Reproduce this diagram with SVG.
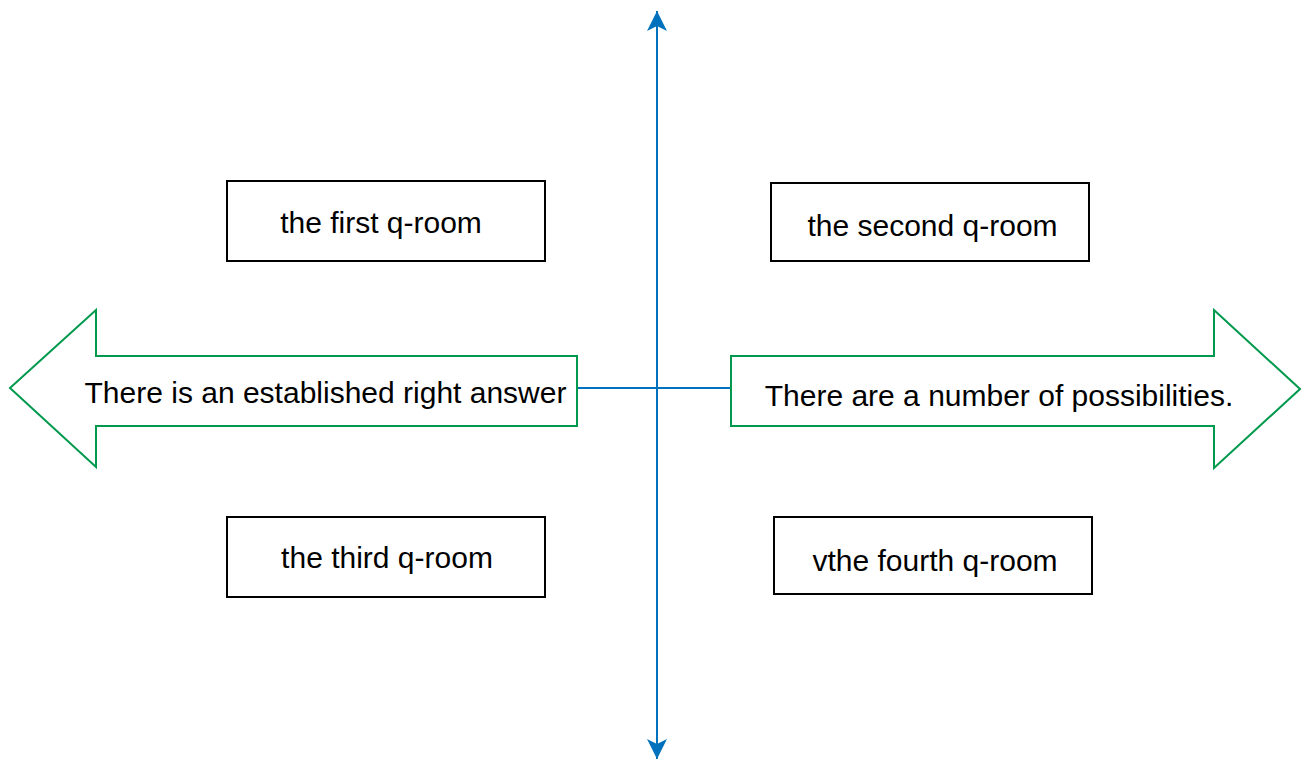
<svg xmlns="http://www.w3.org/2000/svg" width="1301" height="761" viewBox="0 0 1301 761">
<style>
.box{fill:#fff;stroke:#000;stroke-width:2}
.arr{fill:#fff;stroke:#00994D;stroke-width:2}
.lbl{font-family:"Liberation Sans",Arial,sans-serif;font-size:30px;fill:#000;text-anchor:middle}
.ax{stroke:#0071BC;stroke-width:2;fill:none}
</style>
<defs>
<marker id="ah" viewBox="0 0 20 22" refX="20" refY="11" markerWidth="20" markerHeight="22" markerUnits="userSpaceOnUse" orient="auto">
<path d="M0,1 L20,11 L0,21 L5,11 Z" fill="#0071BC"/>
</marker>
</defs>
<g id="connectors">
<line class="ax" x1="657" y1="388" x2="657" y2="11" marker-end="url(#ah)"/>
<line class="ax" x1="657" y1="388" x2="657" y2="759" marker-end="url(#ah)"/>
<line class="ax" x1="577" y1="388" x2="731" y2="388"/>
</g>
<g id="left-arrow">
<path class="arr" d="M577,356 L96,356 L96,310 L10,388 L96,467 L96,426 L577,426 Z"/>
<text class="lbl" x="325.5" y="403">There is an established right answer</text>
</g>
<g id="right-arrow">
<path class="arr" d="M731,356 L1214,356 L1214,310 L1300,389 L1214,468 L1214,426 L731,426 Z"/>
<text class="lbl" x="999" y="406">There are a number of possibilities.</text>
</g>
<g id="room1">
<rect class="box" x="227" y="181" width="318" height="80"/>
<text class="lbl" x="381" y="233">the first q-room</text>
</g>
<g id="room2">
<rect class="box" x="771" y="183" width="318" height="78"/>
<text class="lbl" x="932.5" y="236">the second q-room</text>
</g>
<g id="room3">
<rect class="box" x="227" y="517" width="318" height="80"/>
<text class="lbl" x="387" y="568">the third q-room</text>
</g>
<g id="room4">
<rect class="box" x="774" y="517" width="318" height="77"/>
<text class="lbl" x="935" y="571">vthe fourth q-room</text>
</g>
</svg>
